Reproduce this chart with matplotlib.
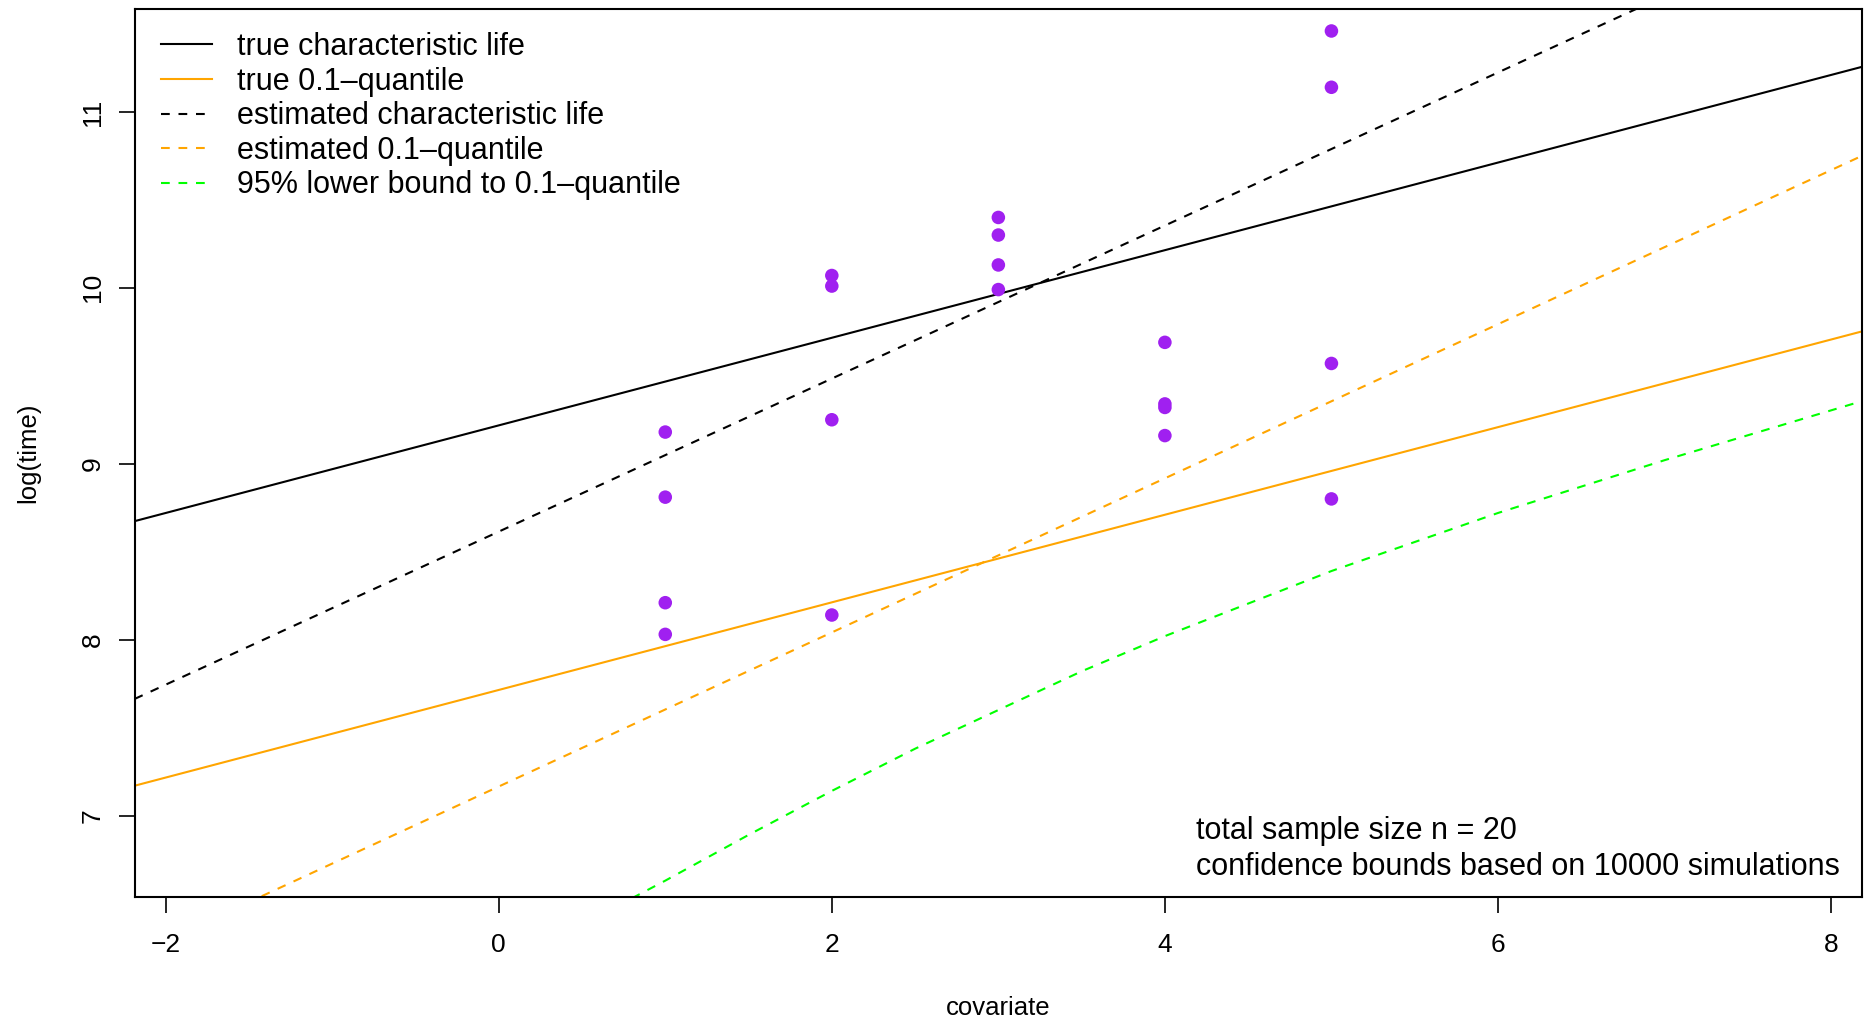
import numpy as np
import matplotlib
matplotlib.use("Agg")
import matplotlib.pyplot as plt

plt.rcParams['font.family'] = ['Liberation Sans', 'DejaVu Sans']

# observed log failure times at each covariate level
obs_x = [1, 1, 1, 1, 2, 2, 2, 2, 3, 3, 3, 3, 4, 4, 4, 4, 5, 5, 5, 5]
obs_y = [9.18, 8.81, 8.21, 8.03,
         10.07, 10.01, 9.25, 8.14,
         10.40, 10.30, 10.13, 9.99,
         9.69, 9.34, 9.32, 9.16,
         11.46, 11.14, 9.57, 8.80]

# straight lines: (intercept, slope) on the log(time) scale
true_char = (9.218, 0.249)
true_q10 = (7.714, 0.249)
est_char = (8.614, 0.435)
est_q10 = (7.165, 0.438)

# 95% lower bound to the 0.1-quantile
lb_x = [0.8, 1.0, 1.5, 2.0, 2.5, 3.0, 3.5, 4.0, 5.0, 6.0, 7.0, 8.2]
lb_y = [6.53, 6.63, 6.89, 7.14, 7.38, 7.60, 7.82, 8.02, 8.39, 8.72, 9.02, 9.36]

legend_labels = ["true characteristic life", "true 0.1\u2013quantile",
                 "estimated characteristic life", "estimated 0.1\u2013quantile",
                 "95% lower bound to 0.1\u2013quantile"]
note_lines = ["total sample size n = 20",
              "confidence bounds based on 10000 simulations"]

x_ticks = [-2, 0, 2, 4, 6, 8]
y_ticks = [7, 8, 9, 10, 11]
xlim = (-2.186, 8.186)
ylim = (6.537, 11.585)

FS = 22        # legend / note text
FS_TICK = 19
FS_LAB = 18.5
LW = 1.5
DASH = (4.2, 4.2)


def main():
    fig = plt.figure(figsize=(18.68, 10.22), dpi=100)
    ax = fig.add_axes([0.0721, 0.1223, 0.9247, 0.8689])

    xx = np.array(xlim)
    ax.plot(xx, true_char[0] + true_char[1] * xx, color="black", lw=LW,
            label=legend_labels[0])
    ax.plot(xx, true_q10[0] + true_q10[1] * xx, color="#FFA500", lw=LW,
            label=legend_labels[1])
    ax.plot(xx, est_char[0] + est_char[1] * xx, color="black", lw=LW,
            dashes=DASH, label=legend_labels[2])
    ax.plot(xx, est_q10[0] + est_q10[1] * xx, color="#FFA500", lw=LW,
            dashes=DASH, label=legend_labels[3])
    ax.plot(lb_x, lb_y, color="#00FF00", lw=LW, dashes=DASH,
            label=legend_labels[4])

    ax.scatter(obs_x, obs_y, s=95, color="#A020F0", edgecolors="none",
               zorder=5)

    ax.set_xlim(*xlim)
    ax.set_ylim(*ylim)
    ax.set_xticks(x_ticks)
    ax.set_yticks(y_ticks)
    ax.tick_params(axis="both", length=11.5, width=1.2, labelsize=FS_TICK,
                   direction="out")
    ax.tick_params(axis="x", pad=14.5)
    ax.tick_params(axis="y", pad=10)
    for lab in ax.get_yticklabels():
        lab.set_rotation(90)
        lab.set_va("center")
    for sp in ax.spines.values():
        sp.set_linewidth(LW)

    ax.set_xlabel("covariate", fontsize=FS_LAB, labelpad=28)
    ax.set_ylabel("log(time)", fontsize=FS_LAB, labelpad=29)

    ax.legend(loc="upper left", bbox_to_anchor=(0.0151, 0.974), frameon=False,
              fontsize=FS, handlelength=1.67, handletextpad=0.83,
              labelspacing=0.15, borderpad=0.0, borderaxespad=0.0)

    ax.text(0.6145, 0.0543, "\n".join(note_lines), transform=ax.transAxes,
            fontsize=FS, ha="left", va="center", linespacing=1.25)

    fig.savefig("out.png", dpi=100)


if __name__ == "__main__":
    main()
